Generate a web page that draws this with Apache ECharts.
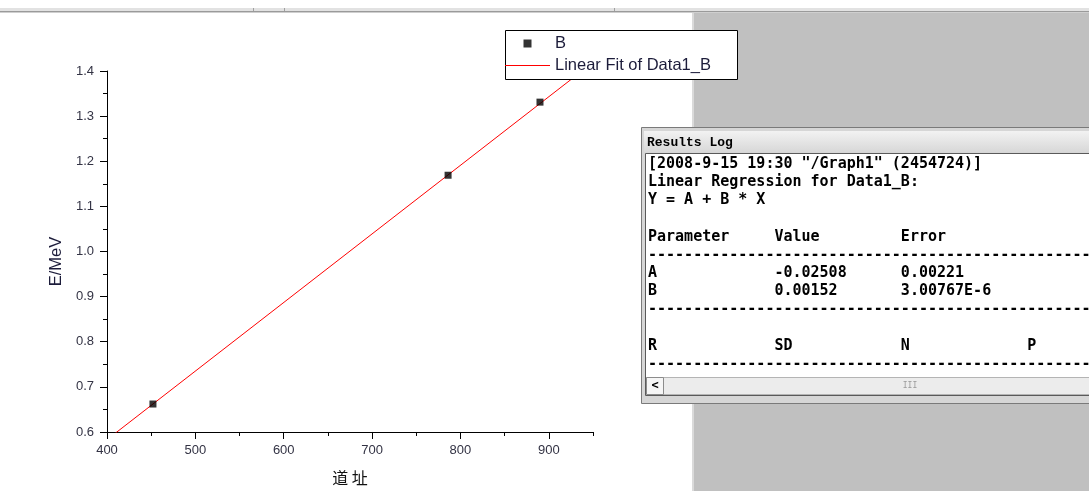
<!DOCTYPE html>
<html>
<head>
<meta charset="utf-8">
<script src="https://cdn.jsdelivr.net/npm/echarts@6/dist/echarts.min.js"></script>
<style>
  html, body { margin: 0; padding: 0; background: #fff; }
  #chart_con { width: 1089px; height: 491px; }
</style>
</head>
<body>
<div id="chart_con"></div>
<script>
// measured points (channel, energy)
const channels = [452, 786, 890];
const energies = [0.662, 1.169, 1.331];
// fitted line end points, clipped to the plot by the grid
const fitChannels = [400, 950];
const fitEnergies = [0.583, 1.419];

const xMajorTicks = [400, 500, 600, 700, 800, 900];

// results log text
const paramNames = ['A', 'B'];
const paramValues = ['-0.02508', '0.00152'];
const paramErrors = ['0.00221', '3.00767E-6'];
const statNames = ['R', 'SD', 'N', 'P'];

function pad(s, n) {
    while (s.length < n) s += ' ';
    return s;
}
const dashes = new Array(60).join('-');
const logLines = [
    '[2008-9-15 19:30 "/Graph1" (2454724)]',
    'Linear Regression for Data1_B:',
    'Y = A + B * X',
    '',
    pad('Parameter', 14) + pad('Value', 14) + 'Error',
    dashes
];
for (let i = 0; i < paramNames.length; i++) {
    logLines.push(pad(paramNames[i], 14) + pad(paramValues[i], 14) + paramErrors[i]);
}
logLines.push(dashes);
logLines.push('');
logLines.push(statNames.map(function (s) { return pad(s, 14); }).join(''));
logLines.push(dashes);

let chart = echarts.init(document.getElementById('chart_con'));

const monoFont = '"DejaVu Sans Mono", monospace';
let graphics = [
    // top strip
    {type: 'rect', shape: {x: 0, y: 8, width: 1089, height: 3}, style: {fill: '#e2e2e2'}, z: 0},
    {type: 'rect', shape: {x: 0, y: 11, width: 1089, height: 1}, style: {fill: '#9a9a9a'}, z: 0},
    {type: 'rect', shape: {x: 0, y: 12, width: 1089, height: 1}, style: {fill: '#cfcfcf'}, z: 0},
    {type: 'rect', shape: {x: 253, y: 8, width: 1, height: 3}, style: {fill: '#a0a0a0'}, z: 0},
    {type: 'rect', shape: {x: 284, y: 8, width: 1, height: 3}, style: {fill: '#a0a0a0'}, z: 0},
    {type: 'rect', shape: {x: 614, y: 8, width: 1, height: 3}, style: {fill: '#a0a0a0'}, z: 0},
    // grey workspace
    {type: 'rect', shape: {x: 692, y: 13, width: 397, height: 478}, style: {fill: '#c0c0c0'}, z: 0},
    {type: 'rect', shape: {x: 692, y: 13, width: 2, height: 478}, style: {fill: '#dadada'}, z: 0},
    // legend box
    {type: 'rect', shape: {x: 505.5, y: 30.5, width: 232, height: 49}, style: {fill: '#fff', stroke: '#000', lineWidth: 1}, z: 10},
    // results log window
    {type: 'rect', shape: {x: 641.5, y: 127.5, width: 460, height: 276}, style: {fill: '#d6d6d6', stroke: '#7a7a7a', lineWidth: 1}, z: 5},
    {type: 'rect', shape: {x: 644, y: 131, width: 450, height: 21},
        style: {fill: new echarts.graphic.LinearGradient(0, 0, 0, 1, [{offset: 0, color: '#f2f2f2'}, {offset: 1, color: '#d8d8d8'}])}, z: 5},
    {type: 'text', x: 647, y: 143, style: {text: 'Results Log', font: 'bold 13px "Liberation Mono", monospace', fill: '#000', verticalAlign: 'middle'}, z: 6},
    {type: 'rect', shape: {x: 645.5, y: 153.5, width: 450, height: 242}, style: {fill: '#fff', stroke: '#5a5a5a', lineWidth: 1}, z: 5},
    // scrollbar
    {type: 'rect', shape: {x: 646.5, y: 377.5, width: 450, height: 17}, style: {fill: '#ececec', stroke: '#b4b4b4', lineWidth: 1}, z: 6},
    {type: 'rect', shape: {x: 646.5, y: 377.5, width: 17, height: 17}, style: {fill: '#f6f6f6', stroke: '#8c8c8c', lineWidth: 1}, z: 7},
    {type: 'text', x: 655, y: 386, style: {text: '<', font: 'bold 12px ' + monoFont, fill: '#000', align: 'center', verticalAlign: 'middle'}, z: 8},
    {type: 'text', x: 910, y: 386, style: {text: 'III', font: '8px ' + monoFont, fill: '#9a9a9a', align: 'center', verticalAlign: 'middle'}, z: 8}
];
logLines.forEach(function (line, i) {
    if (!line) return;
    graphics.push({
        type: 'text', x: 648, y: 164 + i * 18.2,
        style: {text: line, font: 'bold 15px ' + monoFont, fill: '#000', verticalAlign: 'middle'},
        z: 6
    });
});

const option = {
    backgroundColor: '#fff',
    animation: false,
    grid: {
        left: 107,
        top: 71,
        width: 486,
        height: 363,
        containLabel: false
    },
    legend: {
        orient: 'vertical',
        left: 505,
        top: 35,
        padding: 0,
        itemWidth: 45,
        itemHeight: 8,
        itemGap: 5,
        symbolKeepAspect: true,
        itemStyle: {borderWidth: 0},
        textStyle: {fontFamily: 'Liberation Sans', fontSize: 16.5, color: '#1c1c3a', lineHeight: 17},
        data: [
            {name: 'B', icon: 'path://M0,0H1V1H0Z'},
            {name: 'Linear Fit of Data1_B', icon: 'path://M0,0H45V1H0Z'}
        ],
        z: 12
    },
    xAxis: [
        {
            type: 'value',
            min: 400,
            max: 950,
            interval: 100,
            position: 'bottom',
            name: '道 址',
            nameLocation: 'middle',
            nameGap: 38,
            nameTextStyle: {fontFamily: 'Noto Sans CJK SC', fontSize: 16, color: '#111'},
            axisLine: {show: true, onZero: false, lineStyle: {color: '#000', width: 1}},
            axisTick: {show: true, length: 7, customValues: xMajorTicks, lineStyle: {color: '#000'}},
            axisLabel: {customValues: xMajorTicks, margin: 12, fontFamily: 'Liberation Sans', fontSize: 13, color: '#333344'},
            splitLine: {show: false}
        },
        {
            type: 'value',
            min: 400,
            max: 950,
            interval: 50,
            position: 'bottom',
            axisLine: {show: false, onZero: false},
            axisTick: {show: true, length: 4, lineStyle: {color: '#000'}},
            axisLabel: {show: false},
            splitLine: {show: false}
        }
    ],
    yAxis: {
        type: 'value',
        min: 0.6,
        max: 1.4,
        interval: 0.1,
        name: 'E/MeV',
        nameLocation: 'middle',
        nameRotate: 90,
        nameGap: 42,
        nameTextStyle: {fontFamily: 'Liberation Sans', fontSize: 16.5, color: '#1c1c3a', padding: [0, 20, 0, 0]},
        axisLine: {show: true, lineStyle: {color: '#000', width: 1}},
        axisTick: {show: true, length: 7, lineStyle: {color: '#000'}},
        minorTick: {show: true, splitNumber: 2, length: 4, lineStyle: {color: '#000'}},
        axisLabel: {
            margin: 13, fontFamily: 'Liberation Sans', fontSize: 13, color: '#333344',
            formatter: function (v) { return v.toFixed(1); }
        },
        splitLine: {show: false}
    },
    series: [
        {
            name: 'B',
            type: 'scatter',
            symbol: 'rect',
            symbolSize: 7,
            z: 1,
            itemStyle: {color: '#000'},
            data: channels.map(function (c, i) { return [c, energies[i]]; })
        },
        {
            name: 'Linear Fit of Data1_B',
            type: 'line',
            symbol: 'none',
            clip: true,
            z: 1,
            lineStyle: {color: '#ff0000', width: 1},
            itemStyle: {color: '#ff0000'},
            data: fitChannels.map(function (c, i) { return [c, fitEnergies[i]]; })
        }
    ],
    graphic: graphics
};
chart.setOption(option);
window.addEventListener('resize', function () {
    chart.resize();
});
</script>
</body>
</html>
